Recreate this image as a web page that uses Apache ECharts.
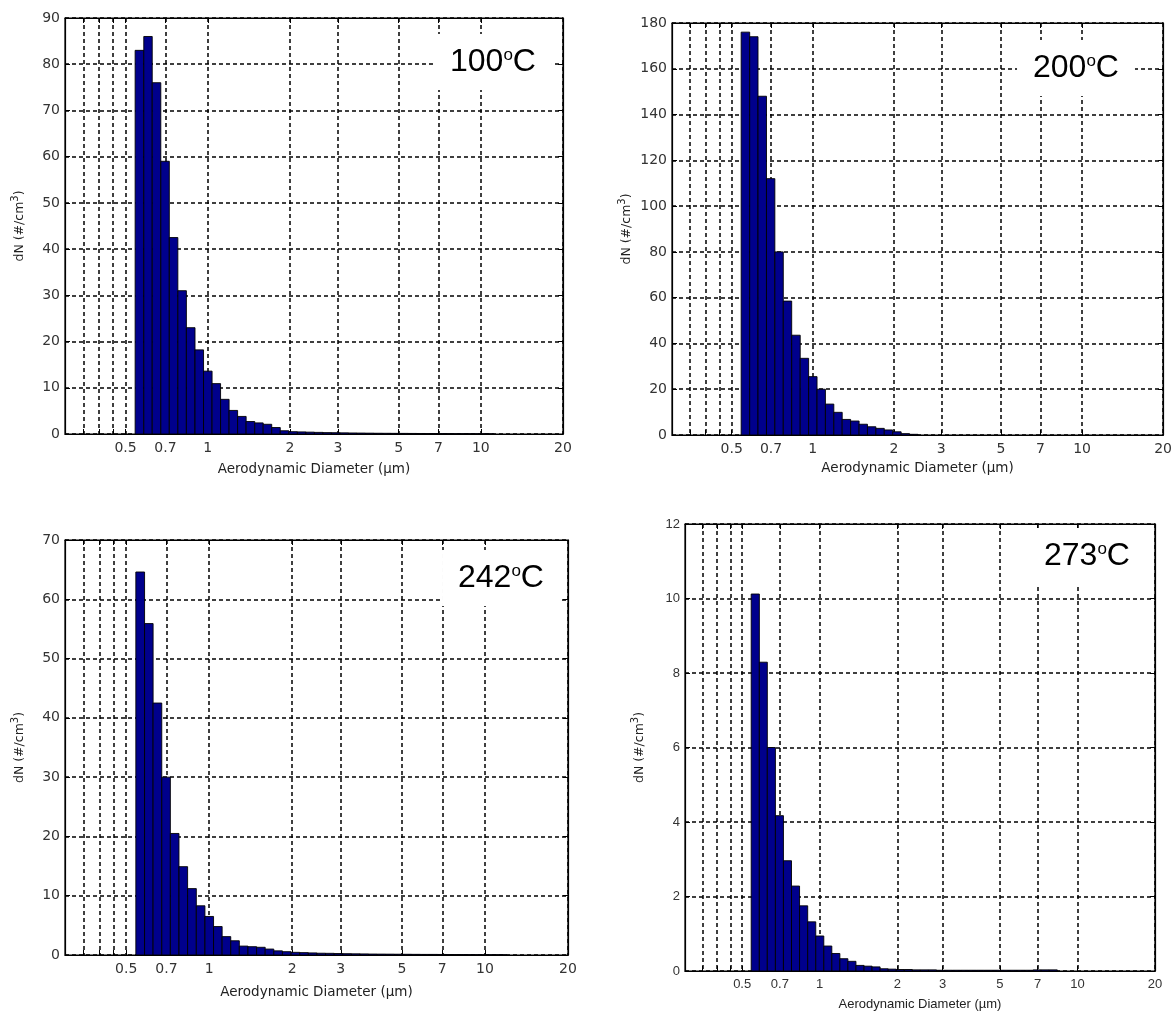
<!DOCTYPE html>
<html><head><meta charset="utf-8">
<script src="https://cdn.jsdelivr.net/npm/echarts@6/dist/echarts.min.js"></script>
<style>html,body{margin:0;padding:0;background:#fff}#c{width:1175px;height:1013px}</style>
</head><body><div id="c"></div>
<script>
// APS channel edges (µm)
const binEdges = [0.542, 0.583, 0.626, 0.673, 0.723, 0.777, 0.835, 0.898, 0.965, 1.037,
  1.114, 1.197, 1.286, 1.382, 1.486, 1.596, 1.715, 1.843, 1.981, 2.129,
  2.288, 2.458, 2.642, 2.839, 3.051, 3.278, 3.523, 3.786, 4.068, 4.371,
  4.698, 5.048, 5.425, 5.829, 6.264, 6.732, 7.234, 7.774, 8.354, 8.977,
  9.647, 10.37, 11.14, 11.97, 12.86];

const dN100 = [83, 86, 76, 59, 42.5, 31, 23, 18.2, 13.6, 10.9, 7.5, 5.1, 3.8, 2.7, 2.4, 2.1, 1.4, 0.7, 0.5, 0.45,
  0.4, 0.35, 0.3, 0.28, 0.25, 0.22, 0.2, 0.18, 0.16, 0.15, 0.14, 0.13, 0.12, 0.11, 0.1, 0.1, 0.09, 0.08, 0.08, 0.07,
  0.06, 0.05];
const dN200 = [176, 174, 148, 112, 80, 58.5, 43.6, 33.5, 25.5, 20, 13.5, 9.9, 6.8, 6.1, 4.7, 3.6, 2.9, 2.2, 1.4, 0.6, 0.3];
const dN242 = [64.6, 55.9, 42.5, 30, 20.5, 14.9, 11.2, 8.3, 6.5, 4.8, 3.1, 2.4, 1.5, 1.4, 1.3, 1.0, 0.7, 0.56, 0.45, 0.4,
  0.35, 0.3, 0.28, 0.25, 0.22, 0.2, 0.18, 0.16, 0.15, 0.14, 0.13, 0.12, 0.11, 0.1, 0.1, 0.09, 0.08, 0.08, 0.07, 0.06,
  0.05, 0.05, 0.04];
const dN273 = [10.12, 8.29, 6.0, 4.17, 2.96, 2.28, 1.75, 1.32, 0.94, 0.67, 0.47, 0.33, 0.26, 0.15, 0.13, 0.11, 0.06, 0.05, 0.04, 0.04,
  0.03, 0.03, 0.03, 0.02, 0.02, 0.02, 0.02, 0.02, 0.02, 0.02, 0.02, 0.02, 0.02, 0.02, 0.02, 0.03, 0.03, 0.03];

const panelData = [dN100, dN200, dN242, dN273];
const temps = ['100', '200', '242', '273'];
const yMaxes = [90, 180, 70, 12];
const ySteps = [10, 20, 10, 2];
const xLabelTicks = [0.5, 0.7, 1, 2, 3, 5, 7, 10, 20];
const xGridTicks = [0.35, 0.4, 0.45, 0.5, 0.7, 1, 2, 3, 5, 7, 10, 20];
const xMin = 0.3, xMax = 20;
const xTitle = 'Aerodynamic Diameter (µm)';

const SANS = 'Liberation Sans, Arial, sans-serif';
const WIDE = 'DejaVu Sans, Verdana, sans-serif';
const grids = [
  {left: 65, top: 18, width: 498, height: 416},
  {left: 672, top: 23, width: 495, height: 412},
  {left: 65, top: 540, width: 503, height: 415},
  {left: 685, top: 524, width: 470, height: 447}
];
const xNameGap = [28, 26, 30, 27];
const tempPos = [[493, 62], [1076, 68], [501, 578], [1087, 556]];
const tickFont = [WIDE, WIDE, WIDE, SANS];
const tickSize = [14, 14, 14, 13];
const titleSize = [13.5, 13.5, 13.5, 13];

const gridLine = {show: true, lineStyle: {color: '#000', type: [4, 3], width: 1.5}};

const xAxes = [], yAxes = [], series = [], graphics = [];
grids.forEach((g, i) => {
  xAxes.push({
    type: 'log', logBase: 10, gridIndex: i, min: xMin, max: xMax, position: 'bottom',
    axisLine: {show: true, onZero: false, lineStyle: {color: '#000', width: 1.2}},
    axisTick: {show: true, inside: true, length: 5, customValues: xGridTicks, lineStyle: {color: '#000'}},
    axisLabel: {customValues: xLabelTicks, formatter: v => String(v), color: '#333', fontSize: tickSize[i], fontFamily: tickFont[i], margin: 7},
    splitLine: gridLine, minorTick: {show: false}, minorSplitLine: {show: false},
    name: xTitle, nameLocation: 'middle', nameGap: xNameGap[i],
    nameTextStyle: {color: '#222', fontSize: titleSize[i], fontFamily: tickFont[i]}
  });
  xAxes.push({
    type: 'log', logBase: 10, gridIndex: i, min: xMin, max: xMax, position: 'top',
    axisLine: {show: true, onZero: false, lineStyle: {color: '#000', width: 1.2}},
    axisTick: {show: true, inside: true, length: 5, customValues: xGridTicks, lineStyle: {color: '#000'}},
    axisLabel: {show: false}, splitLine: {show: false}
  });
  yAxes.push({
    type: 'value', gridIndex: i, min: 0, max: yMaxes[i], interval: ySteps[i], position: 'left',
    axisLine: {show: true, onZero: false, lineStyle: {color: '#000', width: 1.2}},
    axisTick: {show: true, inside: true, length: 5, lineStyle: {color: '#000'}},
    axisLabel: {color: '#333', fontSize: tickSize[i], fontFamily: tickFont[i], margin: 5},
    splitLine: gridLine,
    name: 'dN (#/cm{sup|3})', nameLocation: 'middle', nameGap: 36, nameRotate: 90,
    nameTextStyle: {color: '#222', fontSize: 12.5, fontFamily: WIDE,
      rich: {sup: {fontSize: 10, fontFamily: WIDE, color: '#222', padding: [0, 0, 9, 0]}}}
  });
  yAxes.push({
    type: 'value', gridIndex: i, min: 0, max: yMaxes[i], interval: ySteps[i], position: 'right',
    axisLine: {show: true, onZero: false, lineStyle: {color: '#000', width: 1.2}},
    axisTick: {show: true, inside: true, length: 5, lineStyle: {color: '#000'}},
    axisLabel: {show: false}, splitLine: {show: false}
  });
  series.push({
    type: 'custom', xAxisIndex: 2 * i, yAxisIndex: 2 * i,
    data: panelData[i].map((v, k) => [binEdges[k], binEdges[k + 1], v]),
    encode: {x: [0, 1], y: 2},
    renderItem: (params, api) => {
      const p0 = api.coord([api.value(0), api.value(2)]);
      const p1 = api.coord([api.value(1), 0]);
      return {type: 'rect', shape: {x: p0[0], y: p0[1], width: p1[0] - p0[0], height: p1[1] - p0[1]},
        style: {fill: '#00008C', stroke: '#000', lineWidth: 0.9}};
    },
    z: 5
  });
  graphics.push({
    type: 'text', x: tempPos[i][0], y: tempPos[i][1], z: 100,
    style: {text: temps[i] + '{o|o}C', font: '32px ' + SANS, fill: '#000', align: 'center', verticalAlign: 'middle',
      backgroundColor: '#fff', padding: [12, 16],
      rich: {o: {fontSize: 17, fontFamily: SANS, fill: '#000', padding: [0, 0, 14, 0]}}}
  });
});

const chart = echarts.init(document.getElementById('c'), null, {renderer: 'canvas'});
chart.setOption({
  animation: false,
  backgroundColor: '#fff',
  grid: grids.map(g => Object.assign({show: true, borderColor: '#000', borderWidth: 1.2, backgroundColor: 'transparent'}, g)),
  xAxis: xAxes, yAxis: yAxes, series: series, graphic: graphics
});
</script></body></html>
